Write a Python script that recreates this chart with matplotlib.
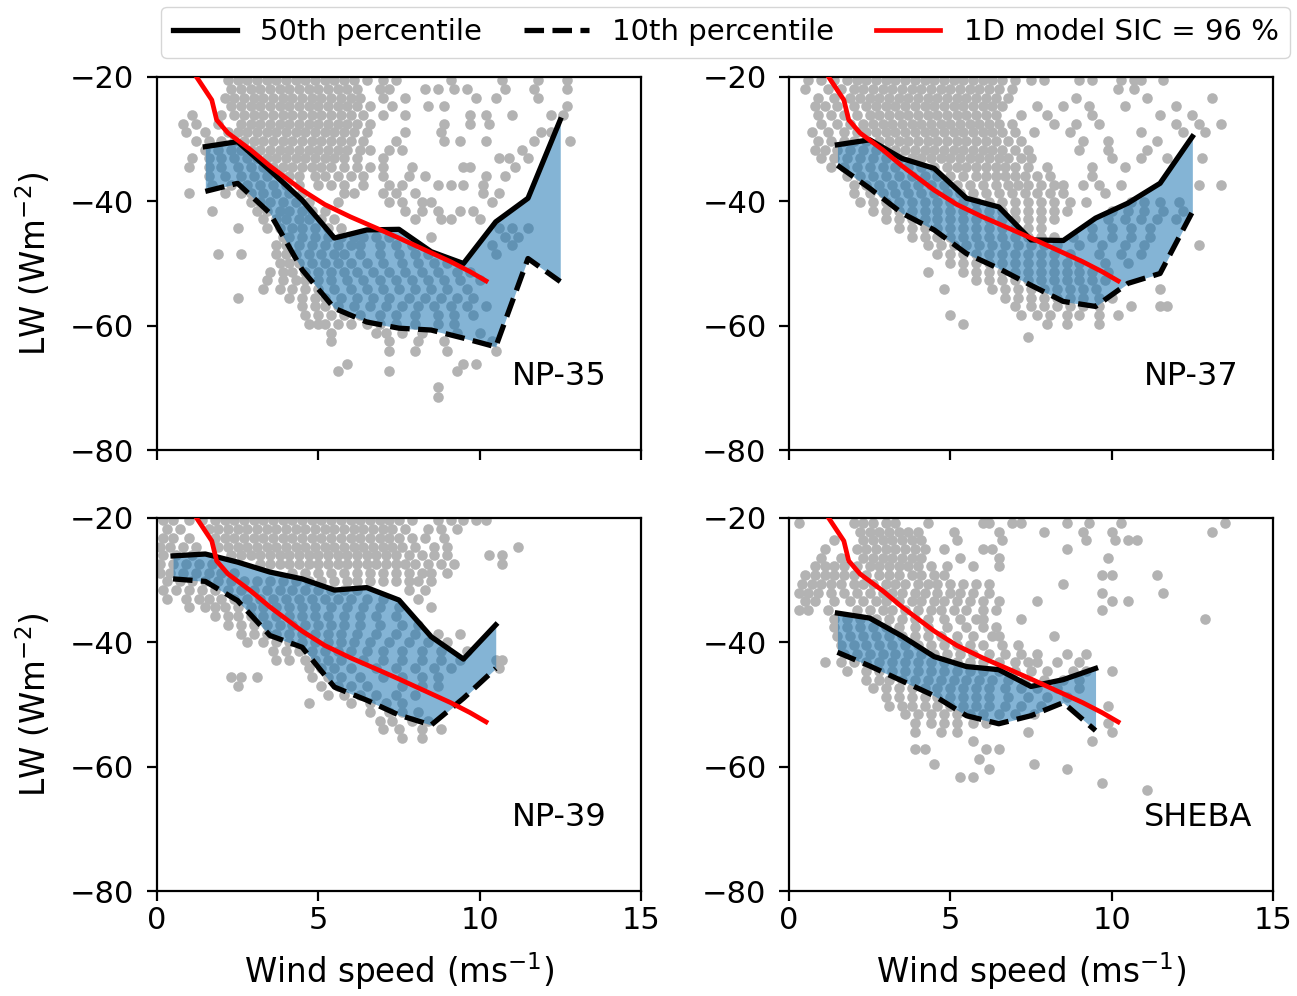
import numpy as np
import matplotlib.pyplot as plt

# percentile curves per campaign (bin centres in m/s, LW in W/m2)
np35_wind = [1.5, 2.5, 3.5, 4.5, 5.5, 6.5, 7.5, 8.5, 9.5, 10.5, 11.5, 12.5]
np35_p50 = [-31.2, -30.4, -35.0, -39.8, -45.9, -44.6, -44.5, -48.1, -50.0, -43.3, -39.5, -26.9]
np35_p10 = [-38.4, -37.1, -41.9, -51.0, -57.2, -59.4, -60.4, -60.7, -62.0, -63.4, -49.2, -52.9]

np37_wind = [1.5, 2.5, 3.5, 4.5, 5.5, 6.5, 7.5, 8.5, 9.5, 10.5, 11.5, 12.5]
np37_p50 = [-30.9, -30.1, -33.1, -34.7, -39.5, -40.9, -46.2, -46.3, -42.7, -40.3, -37.1, -29.6]
np37_p10 = [-34.2, -37.9, -41.9, -44.6, -48.4, -50.8, -53.5, -56.1, -56.9, -53.2, -51.6, -41.7]

np39_wind = [0.5, 1.5, 2.5, 3.5, 4.5, 5.5, 6.5, 7.5, 8.5, 9.5, 10.5]
np39_p50 = [-26.1, -25.8, -27.1, -28.7, -29.8, -31.6, -31.2, -33.2, -39.1, -42.7, -37.2]
np39_p10 = [-29.8, -30.2, -33.3, -38.9, -40.8, -47.2, -49.3, -51.7, -53.3, -49.0, -44.2]

sheba_wind = [1.5, 2.5, 3.5, 4.5, 5.5, 6.5, 7.5, 8.5, 9.5]
sheba_p50 = [-35.3, -36.1, -39.0, -42.3, -43.9, -44.4, -47.1, -46.0, -44.2]
sheba_p10 = [-41.6, -43.8, -46.2, -48.6, -51.8, -53.1, -51.8, -49.7, -54.2]

# 1D model, SIC = 96 %
model_wind = [1.1, 1.7, 1.85, 2.2, 2.9, 3.5, 4.5, 5.2, 6.0, 6.8, 7.5, 8.3, 9.1, 9.7, 10.2]
model_lw = [-19.0, -23.7, -26.9, -29.0, -31.7, -34.3, -38.2, -40.5, -42.5, -44.3, -45.9, -47.8, -49.7, -51.3, -52.8]

# observations, read row by row: (LW, "wind speeds")
np35_obs = [
    (-20.5, "2.2 2.5 2.8 3.1 3.4 3.7 4.0 4.3 4.6 4.9 5.2 5.5 5.8 6.1 6.5 7.0 7.4 9.1 10.7 11.8 12.7"),
    (-21.9, "2.3 2.6 2.9 3.2 3.5 3.8 4.1 4.4 4.7 5.0 5.3 5.6 5.9 6.2 6.9 7.2 8.3 8.7 9.2 9.6 10.8 11.7 12.7"),
    (-23.3, "2.1 2.4 2.7 3.0 3.3 3.6 3.9 4.2 4.5 4.8 5.1 5.4 5.7 6.0 6.3 7.0 7.7 9.9 10.5 11.8"),
    (-24.7, "2.3 2.6 2.9 3.2 3.5 3.8 4.1 4.4 4.7 5.0 5.3 5.6 5.9 6.2 6.6 7.3 8.4 8.9 12.7"),
    (-26.1, "1.1 2.0 2.4 2.7 3.0 3.3 3.6 3.9 4.2 4.5 4.8 5.1 5.4 5.7 6.0 6.4 7.0 7.7 9.7 10.2 11.0 12.2 12.6"),
    (-27.5, "0.8 1.2 1.9 2.6 2.9 3.2 3.5 3.8 4.1 4.4 4.7 5.0 5.3 5.6 5.9 6.2 6.6 8.9 9.7 10.3"),
    (-28.9, "0.9 1.5 2.2 2.5 2.8 3.1 3.4 3.7 4.0 4.3 4.6 4.9 5.2 5.5 5.8 6.1 6.5 7.7 8.8 11.9 12.2"),
    (-30.3, "1.2 1.6 2.0 2.4 2.7 3.0 3.3 3.6 3.9 4.2 4.5 4.8 5.1 5.4 5.7 6.0 6.4 7.4 8.9 9.4 10.2 11.7 12.8"),
    (-31.7, "1.5 1.9 2.3 2.6 2.9 3.2 3.5 3.8 4.1 4.4 4.7 5.0 5.3 5.6 5.9 6.3 6.6 7.2 7.6 11.3"),
    (-33.1, "1.1 1.6 2.0 2.4 2.8 3.1 3.4 3.7 4.0 4.3 4.6 4.9 5.2 5.5 5.8 6.2 7.0 10.6 10.9 11.5"),
    (-34.5, "1.0 1.6 2.0 2.5 2.9 3.3 3.6 3.9 4.2 4.5 4.8 5.1 5.4 5.8 6.2 6.6 7.0 7.9 9.5 9.7 11.1"),
    (-35.9, "1.6 2.1 2.6 3.0 3.4 3.8 4.1 4.4 4.9 5.2 5.6 6.0 6.4 7.0 7.8 8.3 10.2 10.8"),
    (-37.3, "1.7 2.3 2.8 3.2 3.6 4.0 4.4 5.0 5.4 5.8 6.4 7.2 7.6 8.7 9.1 9.5 10.1"),
    (-38.7, "1.0 2.1 2.6 2.9 3.3 3.7 4.1 4.5 5.8 6.1 7.0 7.4 8.0 10.1 10.6"),
    (-40.1, "2.9 3.2 3.5 3.9 4.3 4.7 5.6 7.2 7.6 8.2 8.5 10.4"),
    (-41.5, "1.7 3.1 3.4 3.8 4.1 4.5 4.8 5.2 7.7 8.2 8.7 9.4 9.8"),
    (-42.9, "3.3 3.7 4.0 4.4 4.7 5.1 5.5 8.0 8.8 9.1 10.0"),
    (-44.3, "2.5 3.4 3.8 4.2 4.5 4.9 5.3 5.7 10.6 11.0 11.5"),
    (-45.7, "3.9 4.1 4.5 4.9 5.3 5.7 6.1 6.4 6.8 7.2 8.5 10.8 11.2"),
    (-47.1, "3.7 4.0 4.4 4.8 5.2 5.6 6.0 6.3 6.9 7.4 7.9 10.4 11.0"),
    (-48.5, "1.9 2.6 3.7 4.0 4.3 4.7 5.1 5.5 5.8 6.3 6.9 7.5 8.0 8.4 10.5"),
    (-49.9, "3.8 4.1 4.4 4.8 5.2 5.6 6.0 6.5 7.0 7.6 8.1 8.6 9.0"),
    (-51.3, "3.5 3.9 4.2 4.6 5.0 5.4 5.8 6.2 6.7 7.2 7.7 8.2 8.7 9.3 9.7"),
    (-52.7, "3.4 3.9 4.3 4.6 5.0 5.4 5.9 6.4 6.9 7.4 7.9 8.4 8.9 9.4 10.0"),
    (-54.1, "3.3 3.8 4.2 4.6 5.0 5.5 6.0 6.5 7.0 7.5 8.0 8.5 9.0 9.6"),
    (-55.5, "2.5 4.1 4.5 4.9 5.2 5.7 6.2 6.7 7.2 7.8 8.3 8.8 9.3 9.8"),
    (-56.9, "4.5 4.9 5.2 5.6 6.1 6.6 7.1 7.6 8.1 8.6 9.1 9.6 10.2"),
    (-58.3, "4.6 5.0 5.4 5.8 6.3 6.9 7.4 8.0 8.7 9.2 9.8"),
    (-59.7, "4.7 5.0 5.2 5.6 6.0 6.5 6.9 7.4 8.0 8.7 9.2"),
    (-61.1, "5.4 6.8 7.1 7.6 8.2 9.3 10.0"),
    (-62.5, "5.4 7.2 8.1 8.9 10.4"),
    (-64.0, "7.2 8.0 9.0 10.5"),
    (-66.2, "5.9 9.5 9.9"),
    (-67.3, "5.6 7.2 9.3"),
    (-69.8, "8.7"),
    (-71.5, "8.7"),
]

np37_obs = [
    (-20.5, "0.6 1.0 1.4 1.8 2.1 2.4 2.7 3.0 3.3 3.6 3.9 4.2 4.5 4.8 5.1 5.4 5.7 6.0 6.3 6.6 7.0 7.5 7.9 9.0 9.4 10.3 10.7 10.9 11.6"),
    (-21.9, "0.5 1.2 1.6 2.0 2.3 2.6 2.9 3.2 3.5 3.8 4.1 4.4 4.7 5.0 5.3 5.6 5.9 6.2 6.5 6.9 10.2 10.7"),
    (-23.3, "0.9 1.4 1.9 2.2 2.5 2.8 3.1 3.4 3.7 4.0 4.3 4.6 4.9 5.2 5.5 5.8 6.1 6.4 6.8 8.9 11.1 13.1"),
    (-24.7, "0.8 1.1 1.5 2.0 2.4 2.7 3.0 3.3 3.6 3.9 4.2 4.5 4.8 5.1 5.4 5.7 6.0 6.3 6.6 7.7 8.5 9.3 10.4 12.0"),
    (-26.1, "0.9 1.3 1.7 2.1 2.5 2.8 3.1 3.4 3.7 4.0 4.3 4.6 4.9 5.2 5.5 5.8 6.1 6.4 7.2 8.0 9.4 11.5 12.5"),
    (-27.5, "1.0 1.5 1.9 2.3 2.6 2.9 3.2 3.5 3.8 4.1 4.4 4.7 5.0 5.3 5.6 5.9 6.2 6.5 6.9 8.2 8.9 9.6 12.0 12.7 13.4"),
    (-28.9, "0.7 1.2 1.7 2.1 2.4 2.7 3.0 3.3 3.6 3.9 4.2 4.5 4.8 5.1 5.4 5.7 6.0 6.3 6.6 7.0 7.6 8.7 10.9 12.2 12.9"),
    (-30.3, "0.9 1.3 1.7 2.0 2.4 2.8 3.1 3.4 3.7 4.0 4.3 4.6 4.9 5.2 5.5 5.8 6.1 6.4 6.8 7.2 9.1 9.9 11.4"),
    (-31.7, "0.8 1.1 1.5 1.9 2.3 2.7 3.0 3.3 3.6 3.9 4.2 4.5 4.8 5.1 5.4 5.7 6.0 6.3 6.6 7.0 7.4 9.0 9.9 11.1"),
    (-33.1, "1.0 1.4 1.8 2.2 2.6 3.0 3.4 3.8 4.1 4.4 4.7 5.0 5.3 5.6 5.9 6.2 6.5 6.8 7.2 7.5 10.0 10.9 11.7 12.8"),
    (-34.5, "1.3 1.7 2.1 2.5 2.9 3.3 3.7 4.1 4.5 4.9 5.2 5.5 5.8 6.1 6.4 6.7 7.0 7.4 8.0 9.4 10.4"),
    (-35.9, "1.8 2.2 2.6 3.0 3.4 3.8 4.2 4.6 5.0 5.4 5.8 6.1 6.4 6.7 7.0 7.3 7.7 8.1 9.4"),
    (-37.3, "2.0 2.4 2.8 3.2 3.6 4.0 4.4 4.8 5.2 5.6 6.0 6.4 6.8 7.1 7.4 7.8 8.2 8.5 9.1 9.6 10.3 12.7 13.4"),
    (-38.7, "2.0 2.5 2.9 3.3 3.7 4.1 4.5 4.9 5.3 5.7 6.1 6.5 6.9 7.3 7.7 8.1 8.5 9.8"),
    (-40.1, "2.2 2.6 3.0 3.4 3.8 4.2 4.6 5.0 5.4 5.8 6.2 6.6 7.0 7.4 7.8 8.2 8.7 9.2 10.6 11.0 11.5 12.1"),
    (-41.5, "2.6 3.0 3.4 3.8 4.2 4.6 5.0 5.4 5.8 6.2 6.6 7.0 7.4 7.8 8.2 8.6 10.0 10.5 11.0 11.6 12.2"),
    (-42.9, "3.0 3.4 3.8 4.2 4.6 5.0 5.4 5.8 6.2 6.6 7.0 7.4 7.8 8.2 9.9 10.4 10.9 11.4 12.0"),
    (-44.3, "3.4 3.8 4.2 4.6 5.0 5.4 5.8 6.2 6.6 7.0 7.4 7.8 9.4 10.0 10.6 11.2"),
    (-45.7, "3.8 4.2 4.6 5.0 5.4 5.8 6.2 6.6 7.0 7.4 7.8 8.2 8.8 9.4 10.0 10.6 11.2"),
    (-47.1, "4.3 4.7 5.1 5.5 5.9 6.3 6.7 7.1 7.5 7.9 8.3 9.0 9.7 10.4 11.0 12.7"),
    (-48.5, "4.6 5.0 5.4 5.8 6.2 6.6 7.0 7.4 7.8 8.2 8.7 9.6 10.3 10.9"),
    (-49.9, "5.0 5.4 5.8 6.2 6.6 7.0 7.4 7.8 8.2 8.6 9.0 9.8 10.5"),
    (-51.3, "4.3 5.4 5.8 6.2 6.6 7.0 7.4 7.8 8.2 8.6 9.0 9.4 9.9"),
    (-52.7, "5.8 6.2 6.6 7.0 7.4 7.8 8.2 8.6 9.0 9.4 9.8"),
    (-54.1, "4.8 6.3 6.7 7.1 7.5 7.9 8.3 8.7 9.1 9.5 11.5"),
    (-55.5, "6.7 7.1 7.5 7.9 8.3 8.7 9.1 9.6 10.0"),
    (-56.9, "7.0 7.5 7.9 8.3 8.7 9.1 9.6 10.6 11.5 11.7"),
    (-58.3, "5.0 7.2 7.7 8.1 8.6 9.0 9.6 10.2"),
    (-59.7, "5.4 8.0 8.6 9.6"),
    (-61.8, "7.4"),
]

np39_obs = [
    (-20.4, "0.2 0.5 1.0 1.4 1.8 2.1 2.4 2.7 3.0 3.3 3.6 3.9 4.2 4.5 4.8 5.1 5.4 5.7 6.0 6.3 6.6 6.9 7.2 7.5 7.9 8.7 9.1 9.5 9.9 10.2"),
    (-21.8, "0.3 0.7 1.6 1.9 2.2 2.5 2.8 3.1 3.4 3.7 4.0 4.3 4.6 4.9 5.2 5.5 5.8 6.1 6.4 6.7 7.0 7.3 7.7 8.4 8.8 9.3"),
    (-23.2, "0.2 0.5 1.0 1.8 2.1 2.4 2.7 3.0 3.3 3.6 3.9 4.2 4.5 4.8 5.1 5.4 5.7 6.0 6.3 6.6 6.9 7.2 7.5 7.9 8.3 8.9"),
    (-24.6, "0.1 0.4 0.8 1.2 1.9 2.2 2.5 2.8 3.1 3.4 3.7 4.0 4.3 4.6 4.9 5.2 5.5 5.8 6.1 6.4 6.7 7.0 7.3 7.6 8.0 8.6 9.0 11.2"),
    (-26.0, "0.2 0.6 1.1 2.3 2.6 2.9 3.2 3.5 3.8 4.1 4.4 4.7 5.0 5.3 5.6 5.9 6.2 6.5 6.8 7.1 7.4 7.8 8.2 8.6 9.0 10.3 10.7"),
    (-27.4, "0.1 0.5 0.9 1.3 1.7 3.2 3.5 3.8 4.1 4.4 4.7 5.0 5.3 5.6 5.9 6.2 6.5 6.8 7.1 7.4 7.7 8.0 8.4 8.8 9.2 10.7"),
    (-28.8, "0.1 0.4 0.8 1.2 1.6 2.0 2.4 4.2 4.6 5.0 5.4 5.8 6.2 6.6 7.0 7.4 7.8 8.2 8.5 9.0"),
    (-30.2, "0.3 0.7 1.1 1.5 1.9 2.3 2.7 3.1 3.5 3.9 4.3 4.7 5.1 5.5 5.9 6.2 6.6 7.0 7.4 7.8 8.1 8.5"),
    (-31.6, "0.2 0.6 1.0 1.4 1.8 2.2 2.6 3.0 3.4 3.8 4.2 4.6 5.0 5.4 5.8 6.2 7.8 8.3"),
    (-33.0, "0.3 0.9 1.3 1.6 2.0 2.4 2.8 3.2 3.6 4.0 4.4 4.8 5.2 5.6 6.0 6.5 7.0 8.1"),
    (-34.4, "1.0 1.5 1.8 2.1 2.5 2.9 3.3 3.7 4.1 4.5 4.9 5.4 5.9 6.4 6.9 7.5 8.5"),
    (-35.8, "1.8 2.2 2.5 2.9 3.3 3.7 4.1 4.5 4.9 5.3 5.8 6.3 6.8 7.4"),
    (-37.2, "2.2 2.6 3.0 3.4 3.8 4.2 4.6 5.0 5.4 5.8 6.3 6.9 7.6 8.1"),
    (-38.6, "2.6 3.0 3.4 3.7 4.1 4.5 4.9 5.3 5.7 6.2 6.8 7.4 8.0 8.7 9.4"),
    (-40.0, "2.8 3.3 3.7 4.1 4.5 4.9 5.3 5.7 6.1 6.6 7.2 7.8 8.4 9.0"),
    (-41.4, "3.6 4.0 4.4 4.8 5.2 5.6 6.0 6.5 7.0 7.6 8.2 8.8 9.6"),
    (-42.8, "3.7 4.1 4.6 4.9 5.3 5.7 6.4 7.0 7.6 8.2 8.8 9.4 10.5 10.7"),
    (-44.2, "4.7 5.1 5.5 6.0 6.8 7.4 8.0 8.6 9.1 10.6"),
    (-45.6, "2.3 2.6 3.1 4.8 5.3 5.7 6.3 7.0 7.6 8.2 8.7"),
    (-47.0, "2.5 5.1 5.6 6.0 6.5 7.6 8.2 8.7"),
    (-48.4, "5.3 5.8 6.3 6.8 7.4 8.0"),
    (-49.8, "4.7 6.0 6.6 7.1 7.6"),
    (-51.2, "6.6 7.2 7.6 8.1"),
    (-52.6, "6.9 7.3 7.9 8.4"),
    (-54.0, "7.0 7.5 8.2 8.8"),
    (-55.4, "7.6 8.2"),
]

sheba_obs = [
    (-20.8, "0.3 2.0 2.3 2.6 3.0 3.3 4.3 6.0 6.2 6.9 7.2 8.6 9.3 10.3 13.5"),
    (-22.2, "2.2 2.5 2.8 3.1 3.4 3.7 4.0 5.1 6.5 7.9 9.1 10.0 13.1"),
    (-23.6, "1.4 2.3 2.6 2.9 3.2 3.5 3.8 4.1 5.2 6.6 9.2 10.1 10.5 10.8"),
    (-25.0, "1.1 2.1 2.4 2.7 3.0 3.3 3.6 3.9 4.2 4.8 6.0 6.3 8.6"),
    (-26.4, "1.0 1.6 2.3 2.6 2.9 3.2 3.5 3.8 4.1 5.3 6.5 9.9"),
    (-27.8, "0.8 1.1 1.4 1.7 2.1 2.5 2.8 3.1 3.4 3.7 4.0 4.4 4.9 5.7 6.5"),
    (-29.2, "0.5 0.8 1.1 1.4 1.7 2.0 2.4 2.8 3.1 3.4 3.8 4.1 4.5 4.8 9.7 10.0 11.4"),
    (-30.6, "0.4 0.7 1.0 1.3 1.6 2.0 2.3 2.6 3.0 3.3 3.6 4.0 4.3 4.6 5.0 5.4 5.8 6.2 8.5"),
    (-32.0, "0.3 0.6 0.9 1.3 1.7 2.1 2.5 2.9 3.2 3.5 3.9 4.2 4.6 5.0 5.3 5.7 6.2 9.7 11.6"),
    (-33.4, "0.5 0.8 1.4 1.9 2.3 2.7 3.0 3.4 3.8 4.1 4.5 4.8 5.2 5.6 6.0 6.5 7.7 10.0 10.5"),
    (-34.8, "0.3 0.6 1.2 2.1 2.5 2.9 3.2 3.6 4.0 4.4 4.7 5.1 5.5 6.0 6.4 9.7"),
    (-36.2, "1.4 1.8 2.2 2.7 3.1 3.5 3.9 4.3 4.8 5.3 5.8 6.0 7.2 12.9"),
    (-37.6, "1.4 1.8 2.2 2.6 3.0 3.4 3.9 4.3 4.9 5.5 6.0 6.4"),
    (-39.0, "1.5 1.9 2.3 2.7 3.1 3.5 3.9 4.3 4.7 5.2 5.7 6.3 6.5 8.2"),
    (-40.4, "1.6 2.0 2.4 2.8 3.2 3.6 4.0 4.4 4.8 5.2 5.6 6.0 6.6 7.1"),
    (-41.8, "1.7 2.1 2.5 2.9 3.3 3.7 4.1 4.5 4.9 5.3 5.7 6.2 6.7 7.2 7.7 8.6 9.2"),
    (-43.2, "1.1 1.6 2.0 2.4 2.8 3.2 3.6 4.0 4.4 4.8 5.2 5.6 6.0 6.5 7.0 7.4 7.7 8.3 9.0"),
    (-44.6, "1.8 2.4 2.8 3.2 3.6 4.0 4.4 4.8 5.2 5.6 6.0 6.5 7.0 7.5 8.0 8.8 9.2 10.0"),
    (-46.0, "2.4 2.8 3.1 3.5 3.9 4.3 4.7 5.1 5.5 5.9 6.3 6.8 7.3 7.9 8.5 9.0"),
    (-47.4, "2.6 3.0 3.4 3.8 4.2 4.6 5.0 5.4 5.8 6.2 6.7 7.2 7.7 8.3 9.0"),
    (-48.8, "3.0 3.4 3.8 4.2 4.6 5.0 5.4 5.8 6.2 6.8 7.4 8.0 8.6"),
    (-50.2, "3.1 3.5 3.8 4.2 4.6 5.0 5.4 5.8 6.2 6.7 7.2 7.8 9.9"),
    (-51.6, "3.6 4.0 4.4 4.8 5.2 5.6 6.0 6.5 7.0 7.6"),
    (-53.0, "3.9 4.4 4.8 5.2 5.7 6.1 9.9"),
    (-54.4, "3.9 4.7 5.2 7.4 10.0"),
    (-55.8, "5.7 9.4"),
    (-57.2, "3.9 4.2 6.1 6.5"),
    (-58.8, "5.9"),
    (-59.6, "4.5 7.6"),
    (-60.4, "6.2 8.6"),
    (-61.7, "5.3 5.7"),
    (-62.7, "9.7"),
    (-63.8, "11.1"),
]

names = ["NP-35", "NP-37", "NP-39", "SHEBA"]
winds = [np35_wind, np37_wind, np39_wind, sheba_wind]
p50s = [np35_p50, np37_p50, np39_p50, sheba_p50]
p10s = [np35_p10, np37_p10, np39_p10, sheba_p10]
obs = [np35_obs, np37_obs, np39_obs, sheba_obs]


def unpack(rows):
    xs, ys = [], []
    for lw, line in rows:
        for v in line.split():
            xs.append(float(v))
            ys.append(lw)
    return np.array(xs), np.array(ys)


fig, axes = plt.subplots(2, 2, figsize=(12.97, 9.96), dpi=100)
plt.subplots_adjust(left=0.121, right=0.9815, top=0.9227, bottom=0.1054,
                    wspace=0.306, hspace=0.182)

for i, ax in enumerate(axes.flat):
    ox, oy = unpack(obs[i])
    ax.scatter(ox, oy, s=58, color='0.7', linewidths=0, zorder=1)
    ax.fill_between(winds[i], p10s[i], p50s[i], color='C0', alpha=0.55,
                    linewidth=0, zorder=2)
    l50, = ax.plot(winds[i], p50s[i], 'k-', lw=3.8, zorder=3,
                   label='50th percentile')
    l10, = ax.plot(winds[i], p10s[i], 'k--', lw=3.8, zorder=3,
                   label='10th percentile')
    lm, = ax.plot(model_wind, model_lw, color='red', lw=3.4, zorder=4,
                  label='1D model SIC = 96 %')
    ax.text(11.0, -68.2, names[i], fontsize=23, va='center', ha='left')

    ax.set_xlim(0, 15)
    ax.set_ylim(-80, -20)
    ax.set_xticks([0, 5, 10, 15])
    ax.set_yticks([-20, -40, -60, -80])
    ax.tick_params(labelsize=22, length=7.2, width=1.6)
    ax.tick_params(axis='y', pad=9)
    for sp in ax.spines.values():
        sp.set_linewidth(1.6)
    if i < 2:
        ax.set_xticklabels([])
    else:
        ax.set_xlabel('Wind speed (ms$^{-1}$)', fontsize=23.5, labelpad=11)
    if i % 2 == 0:
        ax.set_ylabel('LW (Wm$^{-2}$)', fontsize=23.5, labelpad=12)

fig.legend([l50, l10, lm], [l50.get_label(), l10.get_label(), lm.get_label()],
           loc='upper center', bbox_to_anchor=(0.5595, 1.008), ncol=3,
           fontsize=21, handlelength=2.2, columnspacing=1.45)

fig.savefig('out.png', dpi=100)
